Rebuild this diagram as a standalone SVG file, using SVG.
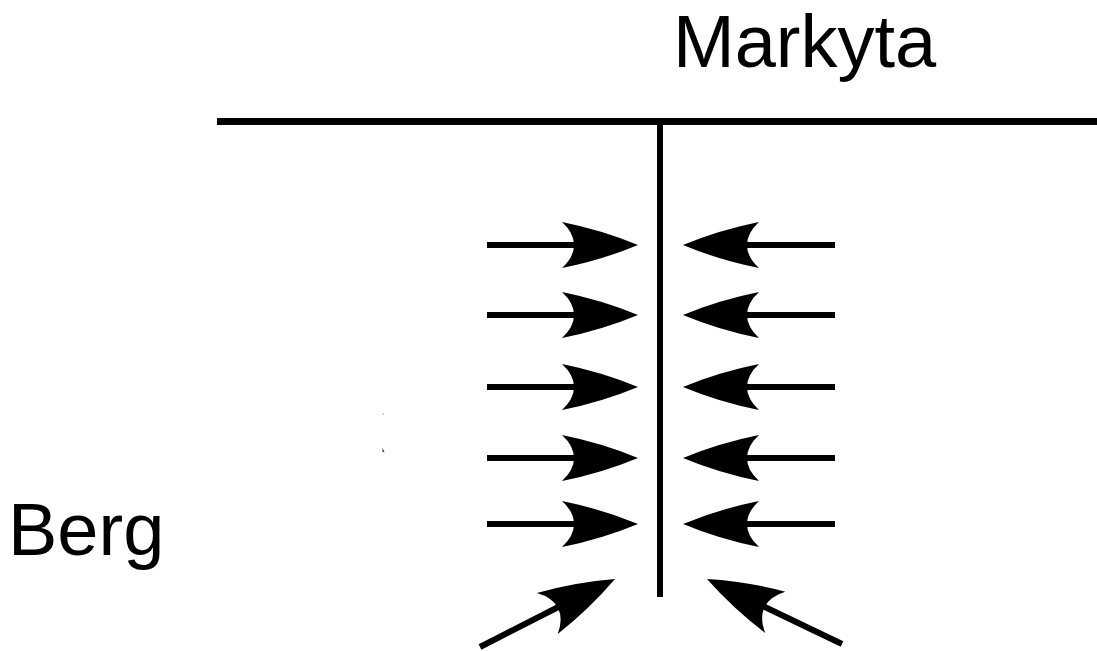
<svg xmlns="http://www.w3.org/2000/svg" xmlns:xlink="http://www.w3.org/1999/xlink" width="1097" height="651" viewBox="0 0 1097 651">
<style>
.ln{stroke:#000;stroke-width:6;fill:none;stroke-linecap:butt}
.hd{fill:#000;stroke:none}
.lbl{font-family:"Liberation Sans",Arial,sans-serif;fill:#000;font-size:74px}
</style>
<defs>
<path id="head" class="hd" d="M0,0 Q-36,-15 -76,-23 Q-64,-12 -64,0 Q-64,12 -76,23 Q-36,15 0,0 Z"/>
</defs>
<rect width="1097" height="651" fill="#fff"/>
<g id="wall">
<line class="ln" x1="217" y1="121.5" x2="1097" y2="121.5" style="stroke-width:7"/>
<line class="ln" x1="660" y1="121" x2="660" y2="597"/>
</g>
<g id="label-markyta"><text class="lbl" x="673" y="67">Markyta</text></g>
<g id="label-berg"><text class="lbl" x="8" y="555">Berg</text></g>
<g id="connectors">
<g id="left-arrows">
<line class="ln" x1="487" y1="245" x2="600" y2="245"/><use xlink:href="#head" transform="translate(638,245)"/>
<line class="ln" x1="487" y1="315" x2="600" y2="315"/><use xlink:href="#head" transform="translate(638,315)"/>
<line class="ln" x1="487" y1="387" x2="600" y2="387"/><use xlink:href="#head" transform="translate(638,387)"/>
<line class="ln" x1="487" y1="458" x2="600" y2="458"/><use xlink:href="#head" transform="translate(638,458)"/>
<line class="ln" x1="487" y1="524" x2="600" y2="524"/><use xlink:href="#head" transform="translate(638,524)"/>
</g>
<g id="right-arrows">
<line class="ln" x1="835" y1="245" x2="720" y2="245"/><use xlink:href="#head" transform="translate(683,245) rotate(180)"/>
<line class="ln" x1="835" y1="315" x2="720" y2="315"/><use xlink:href="#head" transform="translate(683,315) rotate(180)"/>
<line class="ln" x1="835" y1="387" x2="720" y2="387"/><use xlink:href="#head" transform="translate(683,387) rotate(180)"/>
<line class="ln" x1="835" y1="458" x2="720" y2="458"/><use xlink:href="#head" transform="translate(683,458) rotate(180)"/>
<line class="ln" x1="835" y1="524" x2="720" y2="524"/><use xlink:href="#head" transform="translate(683,524) rotate(180)"/>
</g>
<g id="diagonal-arrows">
<line class="ln" x1="480" y1="647" x2="580" y2="596"/><use xlink:href="#head" transform="translate(615,579) rotate(-27)"/>
<line class="ln" x1="842" y1="644" x2="742" y2="596"/><use xlink:href="#head" transform="translate(707,579) rotate(206)"/>
</g>
</g>
<g id="specks">
<rect x="382.5" y="413" width="1" height="2" fill="#aaa"/>
<path d="M382.5,448 L384.5,452 L382.5,452 Z" fill="#333"/>
</g>
</svg>
